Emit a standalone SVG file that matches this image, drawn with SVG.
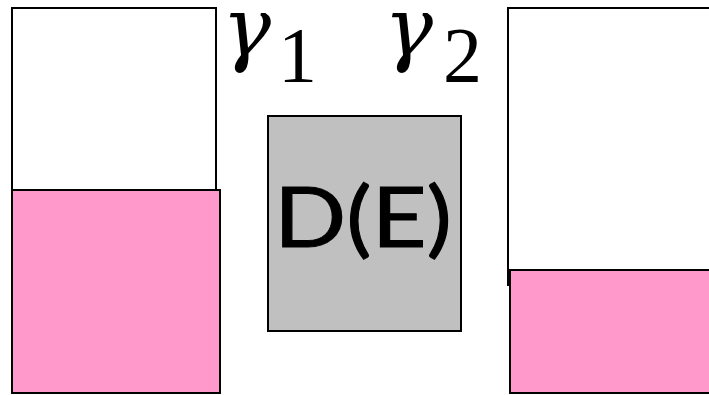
<svg xmlns="http://www.w3.org/2000/svg" width="709" height="395" viewBox="0 0 709 395">
<style>
.box{stroke:#000;stroke-width:2}
.white{fill:#fff}
.pink{fill:#ff99cc}
.gray{fill:#c0c0c0}
.g{font-family:"DejaVu Serif",serif;font-style:italic;font-size:82px;fill:#000}
.n{font-family:"Liberation Serif","DejaVu Serif",serif;font-size:78px;fill:#000}
.lbl{font-family:Lato,"Open Sans",sans-serif;font-size:84px;fill:#000;stroke:#000;stroke-width:1px}
</style>
<rect width="709" height="395" fill="#fff"/>
<g id="left-container">
<rect class="box white" x="12" y="8" width="204" height="182"/>
<rect class="box pink" x="12" y="190" width="208" height="203"/>
</g>
<g id="right-container">
<rect class="box white" x="508" y="8" width="210" height="277"/>
<rect class="box pink" x="510" y="270" width="210" height="123"/>
</g>
<g id="barrier">
<rect class="box gray" x="268" y="116" width="193" height="215"/>
<text class="lbl" x="274" y="247" textLength="178" lengthAdjust="spacingAndGlyphs">D(E)</text>
</g>
<g id="gamma1">
<text class="g" x="222" y="56">γ</text>
<text class="n" x="278" y="81">1</text>
</g>
<g id="gamma2">
<text class="g" x="384" y="56">γ</text>
<text class="n" x="443" y="81">2</text>
</g>
</svg>
